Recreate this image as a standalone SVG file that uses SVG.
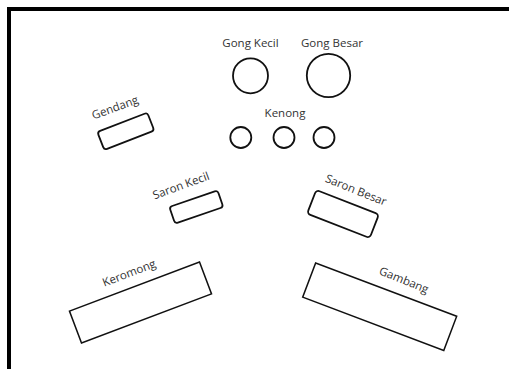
<svg xmlns="http://www.w3.org/2000/svg" width="509" height="369" viewBox="0 0 509 369">
<style>
.lbl{font-family:"Open Sans","Noto Sans",sans-serif;font-size:11.5px;fill:#333;text-anchor:middle}
.sh{fill:#fff;stroke:#111;stroke-width:1.8}
.bx{fill:#fff;stroke:#111;stroke-width:1.5}
</style>
<rect width="509" height="369" fill="#fff"/>
<g id="frame">
<path d="M9,369 V9 H509" fill="none" stroke="#000" stroke-width="4"/>
</g>
<g id="connectors"/>
<g id="gong-kecil">
<circle class="sh" cx="250.5" cy="75.8" r="17.5"/>
<text class="lbl" x="250.5" y="47">Gong Kecil</text>
</g>
<g id="gong-besar">
<circle class="sh" cx="328.5" cy="75.5" r="21.7"/>
<text class="lbl" x="332" y="47">Gong Besar</text>
</g>
<g id="kenong">
<text class="lbl" x="285" y="117">Kenong</text>
<circle class="sh" cx="240.8" cy="137.5" r="10.5"/>
<circle class="sh" cx="284" cy="137.5" r="10.5"/>
<circle class="sh" cx="324" cy="137.5" r="10.5"/>
</g>
<g id="gendang">
<rect class="sh" x="-26.8" y="-9.6" width="53.6" height="19.2" rx="3" transform="translate(125.8,131.3) rotate(-21.2)"/>
<text class="lbl" transform="translate(115,107.5) rotate(-20)" y="4">Gendang</text>
</g>
<g id="saron-kecil">
<rect class="sh" x="-25.5" y="-8.8" width="51" height="17.6" rx="3" transform="translate(196.3,207) rotate(-19)"/>
<text class="lbl" transform="translate(181,185.5) rotate(-20)" y="4">Saron Kecil</text>
</g>
<g id="saron-besar">
<rect class="sh" x="-33.6" y="-12.7" width="67.2" height="25.4" rx="3.5" transform="translate(343,214) rotate(21.2)"/>
<text class="lbl" transform="translate(356,190) rotate(22)" y="4">Saron Besar</text>
</g>
<g id="keromong">
<rect class="bx" x="-69.5" y="-17" width="139" height="34" transform="translate(140.5,302.5) rotate(-20.7)"/>
<text class="lbl" transform="translate(129,273) rotate(-21)" y="4">Keromong</text>
</g>
<g id="gambang">
<rect class="bx" x="-75.4" y="-18.3" width="150.8" height="36.6" transform="translate(379.7,306.7) rotate(20.7)"/>
<text class="lbl" transform="translate(404,280) rotate(22)" y="4">Gambang</text>
</g>
</svg>
